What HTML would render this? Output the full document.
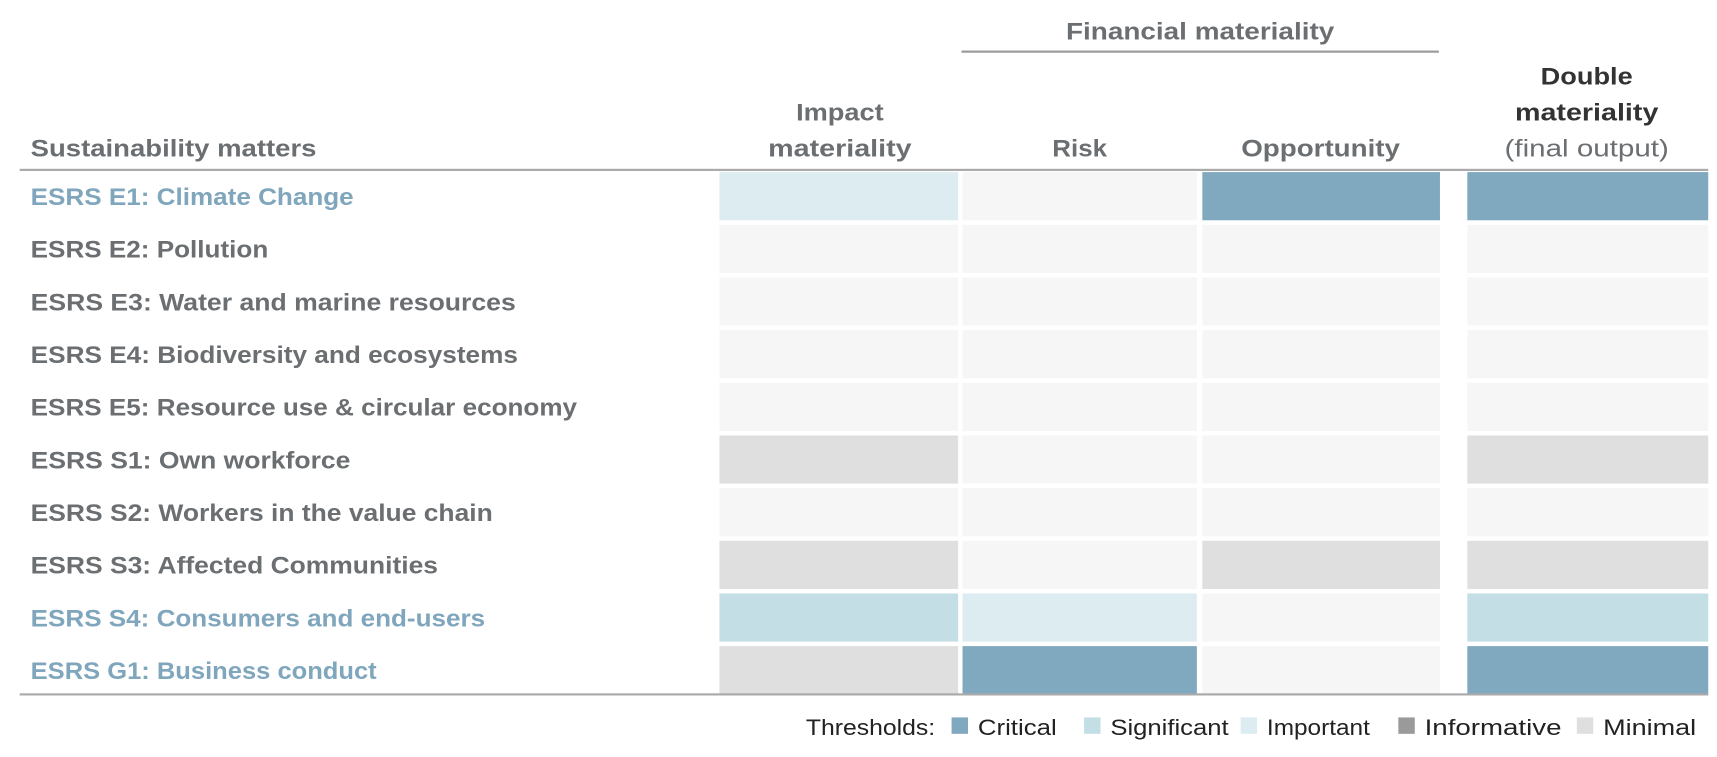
<!DOCTYPE html>
<html><head><meta charset="utf-8"><style>
body{margin:0;background:#fff;}
svg{display:block;font-family:"Liberation Sans",sans-serif;}
</style></head><body>
<svg id="c" width="1717" height="757" viewBox="0 0 1568 691"></svg>
<script>
const rows=["ESRS E1: Climate Change","ESRS E2: Pollution","ESRS E3: Water and marine resources","ESRS E4: Biodiversity and ecosystems","ESRS E5: Resource use & circular economy","ESRS S1: Own workforce","ESRS S2: Workers in the value chain","ESRS S3: Affected Communities","ESRS S4: Consumers and end-users","ESRS G1: Business conduct"];
const rowWidths=[295,217,443,445,499,292,422,372,415,316];
const highlight=[1,0,0,0,0,0,0,0,1,1];
const impact=["important","none","none","none","none","minimal","none","minimal","significant","minimal"];
const risk=["none","none","none","none","none","none","none","none","important","critical"];
const opportunity=["critical","none","none","none","none","none","none","minimal","none","none"];
const doubleMat=["critical","none","none","none","none","minimal","none","minimal","significant","critical"];
const legendLabels=["Critical","Significant","Important","Informative","Minimal"];
const legendKeys=["critical","significant","important","informative","minimal"];
const colors={critical:"#80a8be",significant:"#c4dee6",important:"#ddecf1",informative:"#9a9a9a",minimal:"#dfdfdf",none:"#f6f6f6"};
const svg=document.getElementById('c');
const NS="http://www.w3.org/2000/svg";
function el(t,a,p){const e=document.createElementNS(NS,t);for(const k in a)e.setAttribute(k,a[k]);(p||svg).appendChild(e);return e;}
function txt(s,a){const e=el('text',Object.assign({fill:"#6b6f72","font-weight":"bold","font-size":"22"},a));e.textContent=s;return e;}
const cols=[{x:657,w:218,d:impact,n:"impact"},{x:879,w:214,d:risk,n:"risk"},{x:1098,w:217,d:opportunity,n:"opportunity"},{x:1340,w:220,d:doubleMat,n:"double"}];
const rowY=i=>157+i*48.1, rowH=44;
rows.forEach((r,i)=>{
  const t=txt(r,{x:28,y:rowY(i)+30,fill:highlight[i]?"#7fa6bc":"#6b6f72",textLength:rowWidths[i],lengthAdjust:"spacingAndGlyphs"});
  
  
  cols.forEach(c=>{
    const rc=el('rect',{x:c.x,y:rowY(i),width:c.w,height:rowH,fill:colors[c.d[i]]});
    
    
  });
});
let l1=el('rect',{x:18,y:154,width:1542,height:2,fill:"#aaaaaa"});

let l2=el('rect',{x:18,y:633,width:1542,height:2,fill:"#aaaaaa"});

let l3=el('rect',{x:878,y:46,width:436,height:2,fill:"#9a9a9a"});

const hd=[["Financial materiality",1096,36,245],["Sustainability matters",28,143,261,"start"],["Impact",767,110,80],["materiality",767,143,131],["Risk",986,143,50],["Opportunity",1206,143,145],["Double",1449,77,84,"middle","#333"],["materiality",1449,110,131,"middle","#333"]];
hd.forEach((h,i)=>{const t=txt(h[0],{x:h[1],y:h[2],textLength:h[3],lengthAdjust:"spacingAndGlyphs","text-anchor":h[4]||"middle",fill:h[5]||"#6b6f72"});
});
let fo=txt("(final output)",{x:1449,y:143,"font-weight":"normal",textLength:150,lengthAdjust:"spacingAndGlyphs","text-anchor":"middle"});

let lt=el('text',{x:736,y:671,"font-size":"20",fill:"#222",textLength:118,lengthAdjust:"spacingAndGlyphs"});lt.textContent="Thresholds:";

const lx=[869,990,1133,1277,1440], lw=[72,108,94,125,85];
legendKeys.forEach((k,i)=>{
  const s=el('rect',{x:lx[i],y:655,width:15,height:15,fill:colors[k]});
  
  const t=el('text',{x:lx[i]+24,y:671,"font-size":"20",fill:"#222",textLength:lw[i],lengthAdjust:"spacingAndGlyphs"});t.textContent=legendLabels[i];
  
});
</script>
</body></html>
